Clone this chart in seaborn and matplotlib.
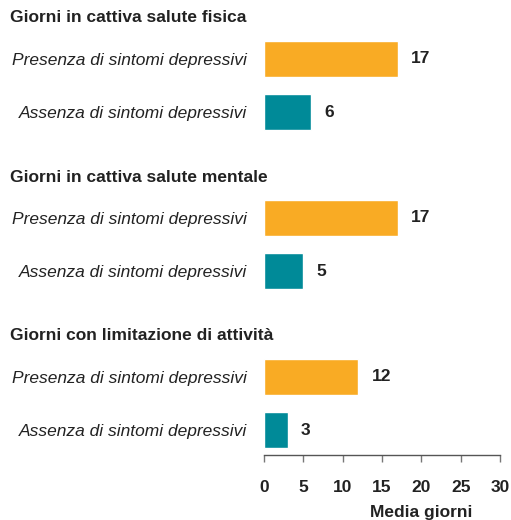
import matplotlib
matplotlib.use("Agg")
import matplotlib.pyplot as plt
import seaborn as sns
import pandas as pd

group_titles = ["Giorni in cattiva salute fisica",
                "Giorni in cattiva salute mentale",
                "Giorni con limitazione di attività"]
categories = ["Presenza di sintomi depressivi", "Assenza di sintomi depressivi"]
values_presenza = [17, 17, 12]
values_assenza = [6, 5, 3]
x_ticks = [0, 5, 10, 15, 20, 25, 30]
x_label = "Media giorni"

colors = {categories[0]: "#F9AB24", categories[1]: "#008A98"}

sns.set_theme(style="white")
plt.rcParams['font.family'] = ['Liberation Sans', 'DejaVu Sans']

W, H = 511, 520
fig = plt.figure(figsize=(W / 100, H / 100), dpi=100)

left_px, right_px = 264, 500
axes_px = [(34, 137), (193, 296), (352, 455)]
title_y = [17, 177, 336]
fs = 12.5

for i, (top, bot) in enumerate(axes_px):
    ax = fig.add_axes([left_px / W, 1 - bot / H, (right_px - left_px) / W, (bot - top) / H])
    df = pd.DataFrame({"cat": categories,
                       "val": [values_presenza[i], values_assenza[i]]})
    sns.barplot(data=df, x="val", y="cat", hue="cat", palette=colors,
                orient="h", width=0.68, legend=False, ax=ax, saturation=1)
    ax.set_xlim(0, 30)
    ax.set_ylim(1.47, -0.47)
    ax.set_ylabel("")
    ax.set_xlabel("")
    for c in ax.containers:
        ax.bar_label(c, fmt="%d", padding=9.5, fontsize=fs, fontweight="bold",
                     color="#222222")
    ax.tick_params(axis="y", length=0, pad=12.2)
    for lab in ax.get_yticklabels():
        lab.set_fontstyle("italic")
        lab.set_fontsize(fs)
        lab.set_color("#222222")
    for s in ["top", "right", "left"]:
        ax.spines[s].set_visible(False)
    if i < 2:
        ax.spines["bottom"].set_visible(False)
        ax.set_xticks([])
    else:
        ax.spines["bottom"].set_color("#555555")
        ax.spines["bottom"].set_linewidth(1.0)
        ax.set_xticks(x_ticks)
        ax.set_xticklabels([str(t) for t in x_ticks], fontsize=fs, fontweight="bold",
                           color="#222222")
        ax.tick_params(axis="x", bottom=True, direction="out", length=5, width=1,
                       color="#777777", pad=13)
    fig.text(10 / W, 1 - title_y[i] / H, group_titles[i], fontsize=fs,
             fontweight="bold", color="#222222", ha="left", va="center")

fig.text(421 / W, 1 - 512 / H, x_label, fontsize=fs, fontweight="bold",
         color="#222222", ha="center", va="center")

fig.savefig("out.png", dpi=100)
